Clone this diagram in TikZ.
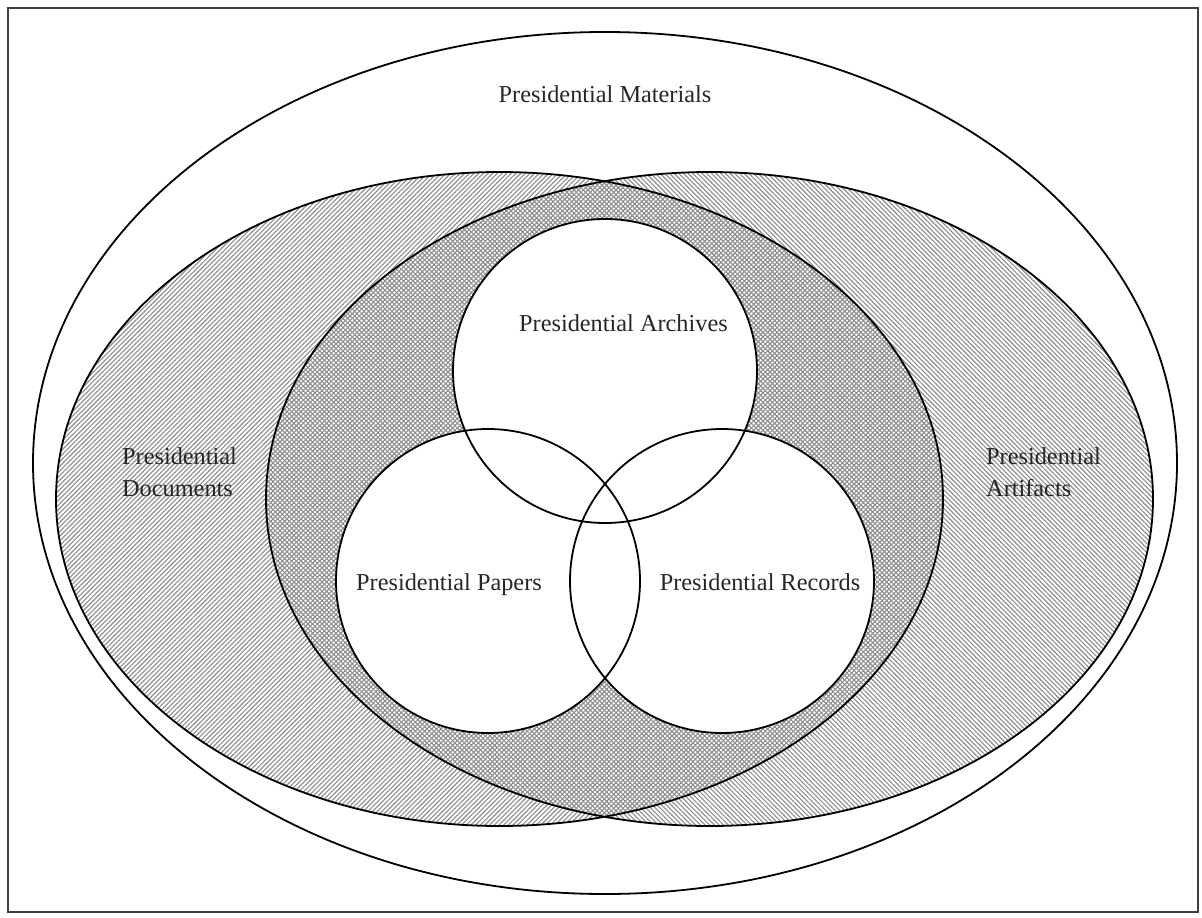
\documentclass[tikz,border=0pt]{standalone}
\usepackage{fontspec}
\setmainfont{Liberation Serif}
\usetikzlibrary{patterns.meta}
\tikzset{
  outline/.style={draw=black, line width=1.8pt},
  hatchne/.style={pattern={Lines[angle=45, distance=3.3pt, line width=1.1pt]}, pattern color=black!45},
  hatchnw/.style={pattern={Lines[angle=-45, distance=3.3pt, line width=1.1pt]}, pattern color=black!45},
  disc/.style={fill=white},
  lbl/.style={font=\fontsize{24.3}{32}\selectfont, text=black!85, inner sep=0pt},
}
\begin{document}
\begin{tikzpicture}[x=1pt, y=-1pt]
\useasboundingbox (0,0) rectangle (1202,918);
% frame
\draw[draw=black!75, line width=1.6pt] (8,8) rectangle (1198,912);
% outer ellipse
\draw[outline] (605,463) ellipse [x radius=572pt, y radius=431pt];
% hatched ellipses
\fill[hatchne] (499.5,499) ellipse [x radius=443.5pt, y radius=327pt];
\fill[hatchnw] (709.5,499) ellipse [x radius=443.5pt, y radius=327pt];
\draw[outline] (499.5,499) ellipse [x radius=443.5pt, y radius=327pt];
\draw[outline] (709.5,499) ellipse [x radius=443.5pt, y radius=327pt];
% circles
\coordinate (arc) at (605,371);
\coordinate (pap) at (488,581);
\coordinate (rec) at (722,581);
\fill[disc] (arc) circle [radius=152pt];
\fill[disc] (pap) circle [radius=152pt];
\fill[disc] (rec) circle [radius=152pt];
\draw[outline] (arc) circle [radius=152pt];
\draw[outline] (pap) circle [radius=152pt];
\draw[outline] (rec) circle [radius=152pt];
% labels
\node[lbl, anchor=base] (mat) at (605,102) {Presidential Materials};
\node[lbl, anchor=base west, align=left] (doc) at (122,496) {Presidential\\Documents};
\node[lbl, anchor=base west, align=left] (art) at (986,496) {Presidential\\Artifacts};
\node[lbl, anchor=base west] (archl) at (519,331) {Presidential Archives};
\node[lbl, anchor=base] (papl) at (449,590) {Presidential Papers};
\node[lbl, anchor=base] (recl) at (760,590) {Presidential Records};
\end{tikzpicture}
\end{document}
